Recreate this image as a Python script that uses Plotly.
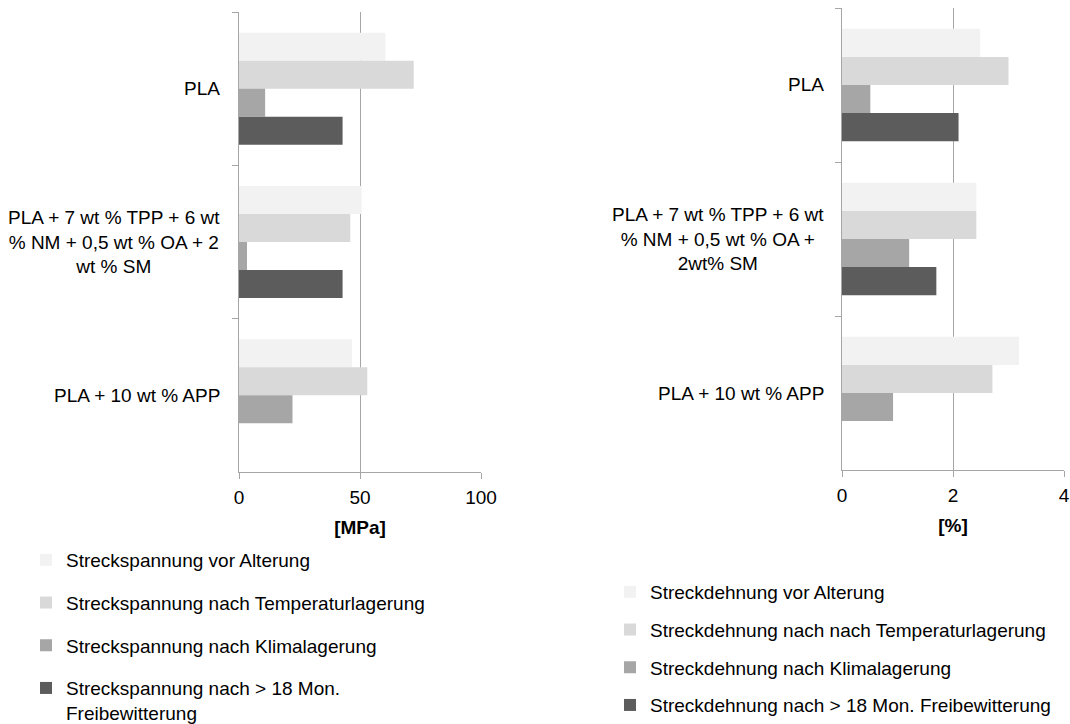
import plotly.graph_objects as go

categories_left = ["PLA",
                   "PLA + 7 wt % TPP + 6 wt<br>% NM + 0,5 wt % OA + 2<br>wt % SM",
                   "PLA + 10 wt % APP"]
categories_right = ["PLA",
                    "PLA + 7 wt % TPP + 6 wt<br>% NM + 0,5 wt % OA +<br>2wt% SM",
                    "PLA + 10 wt % APP"]

series_left = [
    "Streckspannung vor Alterung",
    "Streckspannung nach Temperaturlagerung",
    "Streckspannung nach Klimalagerung",
    "Streckspannung nach > 18 Mon.<br>Freibewitterung",
]
series_right = [
    "Streckdehnung vor Alterung",
    "Streckdehnung nach nach Temperaturlagerung",
    "Streckdehnung nach Klimalagerung",
    "Streckdehnung nach > 18 Mon. Freibewitterung",
]

# Streckspannung [MPa]
stress_vor = [60.5, 50.7, 46.7]
stress_temp = [72.2, 46.0, 53.0]
stress_klima = [10.8, 3.3, 22.1]
stress_frei = [42.8, 42.8, None]

# Streckdehnung [%]
strain_vor = [2.49, 2.42, 3.19]
strain_temp = [3.0, 2.42, 2.71]
strain_klima = [0.51, 1.21, 0.92]
strain_frei = [2.10, 1.70, None]

x_ticks_left = [0, 50, 100]
x_ticks_right = [0, 2, 4]

colors = ["#F2F2F2", "#D9D9D9", "#A6A6A6", "#5C5C5C"]
FONT = "Liberation Sans, Arial, sans-serif"
FS = 19
GRID = "#A6A6A6"

fig = go.Figure()

ids = ["0", "1", "2"]
for i, (name, vals) in enumerate(zip(series_left, [stress_vor, stress_temp, stress_klima, stress_frei])):
    fig.add_trace(go.Bar(
        x=vals, y=ids, orientation="h", name=name,
        marker=dict(color=colors[i], line=dict(width=0)),
        xaxis="x", yaxis="y", legend="legend", legendgroup="L%d" % i,
    ))
for i, (name, vals) in enumerate(zip(series_right, [strain_vor, strain_temp, strain_klima, strain_frei])):
    fig.add_trace(go.Bar(
        x=vals, y=ids, orientation="h", name=name,
        marker=dict(color=colors[i], line=dict(width=0)),
        xaxis="x2", yaxis="y2", legend="legend2", legendgroup="R%d" % i,
    ))

W, H = 1070, 724

def px_x(p):
    return p / W

def px_y(p):
    return 1 - p / H

xaxis_common = dict(
    showgrid=True, gridcolor=GRID, gridwidth=1,
    showline=True, linecolor=GRID, linewidth=1,
    ticks="outside", ticklen=6, tickcolor=GRID,
    tickfont=dict(family=FONT, size=FS, color="#000000"),
    zeroline=False, automargin=False, fixedrange=True,
    ticklabelstandoff=2,
)
yaxis_common = dict(
    type="category", showgrid=False,
    showline=True, linecolor=GRID, linewidth=1,
    ticks="outside", ticklen=6, tickcolor=GRID, tickson="boundaries",
    showticklabels=False, range=[2.5, -0.5], automargin=False, fixedrange=True,
)

fig.update_layout(
    width=W, height=H,
    margin=dict(l=0, r=0, t=0, b=0, autoexpand=False),
    paper_bgcolor="white", plot_bgcolor="white",
    barmode="group", bargap=0.27, bargroupgap=0,
    font=dict(family=FONT, size=FS, color="#000000"),
    xaxis=dict(xaxis_common, domain=[px_x(239), px_x(481)], anchor="y",
               range=[0, 100], tickvals=x_ticks_left,
               title=dict(text="<b>[MPa]</b>", font=dict(family=FONT, size=FS), standoff=13)),
    yaxis=dict(yaxis_common, domain=[px_y(472), px_y(12)], anchor="x"),
    xaxis2=dict(xaxis_common, domain=[px_x(842), px_x(1064)], anchor="y2",
                range=[0, 4], tickvals=x_ticks_right,
                title=dict(text="<b>[%]</b>", font=dict(family=FONT, size=FS), standoff=13)),
    yaxis2=dict(yaxis_common, domain=[px_y(470), px_y(8)], anchor="x2"),
    legend=dict(x=px_x(26), y=px_y(541), xanchor="left", yanchor="top",
                traceorder="grouped", tracegroupgap=15, valign="top",
                font=dict(family=FONT, size=FS, color="#000000"),
                bgcolor="rgba(0,0,0,0)"),
    legend2=dict(x=px_x(610), y=px_y(573), xanchor="left", yanchor="top",
                 traceorder="grouped", tracegroupgap=10,
                 font=dict(family=FONT, size=FS, color="#000000"),
                 bgcolor="rgba(0,0,0,0)"),
    showlegend=True,
)

annotations = []
for cat_id, label in zip(ids, categories_left):
    annotations.append(dict(text=label, x=0, xref="x domain", xanchor="right", xshift=-17,
                            y=cat_id, yref="y", yanchor="middle", align="center",
                            showarrow=False, font=dict(family=FONT, size=FS, color="#000000")))
for cat_id, label in zip(ids, categories_right):
    annotations.append(dict(text=label, x=0, xref="x2 domain", xanchor="right", xshift=-16,
                            y=cat_id, yref="y2", yanchor="middle", align="center",
                            showarrow=False, font=dict(family=FONT, size=FS, color="#000000")))
fig.update_layout(annotations=annotations)

fig.write_html("out.html", config={"displayModeBar": False},
               post_script="document.body.style.margin='0px';")
